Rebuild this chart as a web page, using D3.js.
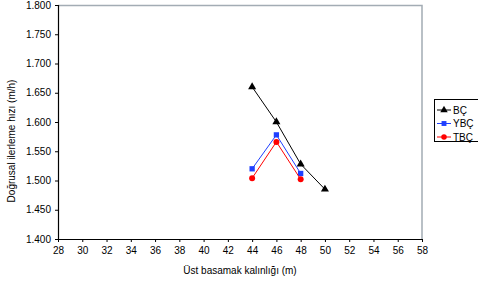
<!DOCTYPE html>
<html>
<head>
<meta charset="utf-8">
<script src="https://cdn.jsdelivr.net/npm/d3@7"></script>
<style>
  body { margin: 0; background: #fff; }
  text { font-family: "Liberation Sans", Arial, sans-serif; }
</style>
</head>
<body>
<script>
const xTicks = [28, 30, 32, 34, 36, 38, 40, 42, 44, 46, 48, 50, 52, 54, 56, 58];
const yTicks = [1.4, 1.45, 1.5, 1.55, 1.6, 1.65, 1.7, 1.75, 1.8];

const bcX = [44, 46, 48, 50];
const bcY = [1.660, 1.600, 1.528, 1.485];
const ybcX = [44, 46, 48];
const ybcY = [1.520, 1.578, 1.512];
const tbcX = [44, 46, 48];
const tbcY = [1.504, 1.566, 1.502];

const series = [
  { name: 'BÇ', xs: bcX, ys: bcY, color: '#000000', shape: d3.symbolTriangle },
  { name: 'YBÇ', xs: ybcX, ys: ybcY, color: '#1f3fff', shape: d3.symbolSquare },
  { name: 'TBÇ', xs: tbcX, ys: tbcY, color: '#ff0000', shape: d3.symbolCircle },
];

const margin = { top: 5, right: 56, bottom: 45, left: 58 };
const W = 478, H = 284;
const width = W - margin.left - margin.right;
const height = H - margin.top - margin.bottom;

const x = d3.scaleLinear().domain([28, 58]).range([0, width]);
const y = d3.scaleLinear().domain([1.4, 1.8]).range([height, 0]);

const svg = d3.select('body').append('svg')
  .attr('width', W)
  .attr('height', H);

const g = svg.append('g')
  .attr('transform', `translate(${margin.left},${margin.top})`);

// grey frame on top and right
g.append('path')
  .attr('d', `M0,0.5H${width}V${height}`)
  .attr('fill', 'none')
  .attr('stroke', '#a3acb4')
  .attr('stroke-width', 1.5);

const xAxis = g.append('g')
  .attr('transform', `translate(0,${height})`)
  .call(d3.axisBottom(x).tickValues(xTicks).tickSize(3).tickPadding(5).tickFormat(d3.format('d')));

const yAxis = g.append('g')
  .call(d3.axisLeft(y).tickValues(yTicks).tickSize(3).tickPadding(4).tickFormat(d3.format('.3f')));

[xAxis, yAxis].forEach(a => {
  a.select('.domain').attr('stroke', '#000').attr('stroke-width', 1.2);
  a.selectAll('.tick line').attr('stroke', '#000');
  a.selectAll('.tick text')
    .attr('font-family', '"Liberation Sans", Arial, sans-serif')
    .attr('font-size', '10px')
    .attr('fill', '#000');
});
xAxis.select('.domain').attr('d', `M0,0.5H${width}`);
yAxis.select('.domain').attr('d', `M0.5,0V${height}`);

// Series lines and markers
series.forEach(s => {
  const pts = s.xs.map((v, i) => [v, s.ys[i]]);
  g.append('path')
    .datum(pts)
    .attr('fill', 'none')
    .attr('stroke', s.color)
    .attr('stroke-width', 1)
    .attr('d', d3.line().x(d => x(d[0])).y(d => y(d[1])));
  g.selectAll(null)
    .data(pts)
    .enter().append('path')
    .attr('transform', d => `translate(${x(d[0])},${y(d[1])})`)
    .attr('d', d3.symbol().type(s.shape).size(s.shape === d3.symbolCircle ? 28 : 28))
    .attr('fill', s.color);
});

// Axis titles
svg.append('text')
  .attr('x', margin.left + width / 2)
  .attr('y', 274)
  .attr('text-anchor', 'middle')
  .attr('font-size', '10px')
  .text('Üst basamak kalınlığı (m)');

svg.append('text')
  .attr('transform', `translate(15,${141}) rotate(-90)`)
  .attr('text-anchor', 'middle')
  .attr('font-size', '10px')
  .text('Doğrusal ilerleme hızı (m/h)');

// Legend
const legend = svg.append('g').attr('transform', 'translate(434,99)');
legend.append('rect')
  .attr('x', 0.5).attr('y', 0.5)
  .attr('width', 50).attr('height', 42)
  .attr('fill', '#fff')
  .attr('stroke', '#000')
  .attr('stroke-width', 1);

series.forEach((s, i) => {
  const row = legend.append('g').attr('transform', `translate(0,${11 + i * 13.5})`);
  row.append('line')
    .attr('x1', 3).attr('x2', 17)
    .attr('stroke', s.color).attr('stroke-width', 1);
  row.append('path')
    .attr('transform', 'translate(10,0)')
    .attr('d', d3.symbol().type(s.shape).size(24))
    .attr('fill', s.color);
  row.append('text')
    .attr('x', 19).attr('dy', '0.35em')
    .attr('font-size', '10px')
    .text(s.name);
});
</script>
</body>
</html>
